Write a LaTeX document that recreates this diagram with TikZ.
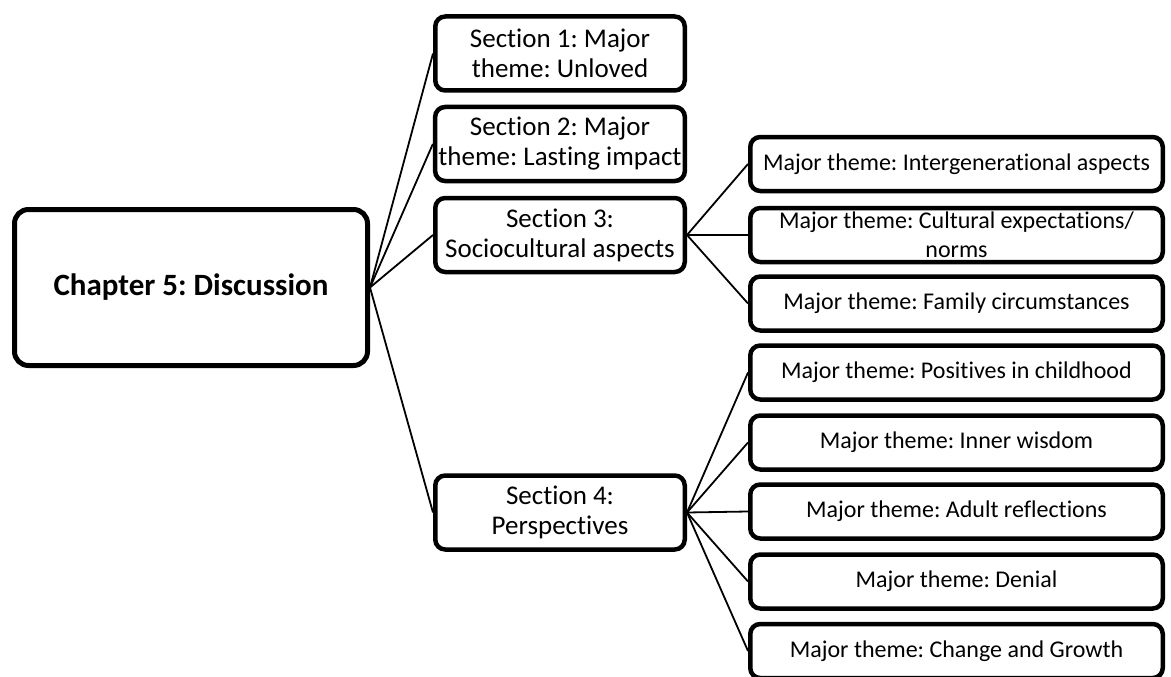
\documentclass[tikz,border=0pt]{standalone}
\usepackage{fontspec}
\setmainfont{Carlito}[Ligatures=NoCommon]
\frenchspacing
\tikzset{
    chapbox/.style={draw, line width=5pt, rounded corners=14pt, minimum width=353pt, minimum height=156pt, font=\fontsize{31}{36}\selectfont\bfseries},
    secbox/.style={draw, line width=4.5pt, rounded corners=10pt, minimum width=249.5pt, minimum height=74pt, inner ysep=2pt, align=center, font=\fontsize{27}{30}\selectfont},
    themebox/.style={draw, line width=4.5pt, rounded corners=10pt, minimum width=412.5pt, minimum height=54pt, inner ysep=1pt, align=center, font=\fontsize{24}{29}\selectfont},
    link/.style={line width=1.8pt}
}
\begin{document}
\begin{tikzpicture}[x=1pt, y=-1pt]
    \useasboundingbox (0,0) rectangle (1171,677);
    \node[chapbox](chap) at (191,287.5) {Chapter 5: Discussion};
    \node[secbox](s1) at (560,53.5) {Section 1: Major\\theme: Unloved};
    \node[secbox](s2) at (560,144) {Section 2: Major\\theme: Lasting impact};
    \node[secbox](s3) at (560,235) {Section 3:\\Sociocultural aspects};
    \node[secbox](s4) at (560,512.5) {Section 4:\\Perspectives};
    \node[themebox](t1) at (956.5,164) {Major theme: Intergenerational aspects};
    \node[themebox](t2) at (956.5,235) {Major theme: Cultural expectations/\\norms};
    \node[themebox](t3) at (956.5,303.5) {Major theme: Family circumstances};
    \node[themebox](p1) at (956.5,372.5) {Major theme: Positives in childhood};
    \node[themebox](p2) at (956.5,442.5) {Major theme: Inner wisdom};
    \node[themebox](p3) at (956.5,511.5) {Major theme: Adult reflections};
    \node[themebox](p4) at (956.5,581.5) {Major theme: Denial};
    \node[themebox](p5) at (956.5,651) {Major theme: Change and Growth};
\foreach \s in {s1,s2,s3,s4}
{
    \draw[link](chap.east)--(\s.west);
}
\foreach \t in {t1,t2,t3}
{
    \draw[link](s3.east)--(\t.west);
}
\foreach \p in {p1,p2,p3,p4,p5}
{
    \draw[link](s4.east)--(\p.west);
}
\end{tikzpicture}
\end{document}
